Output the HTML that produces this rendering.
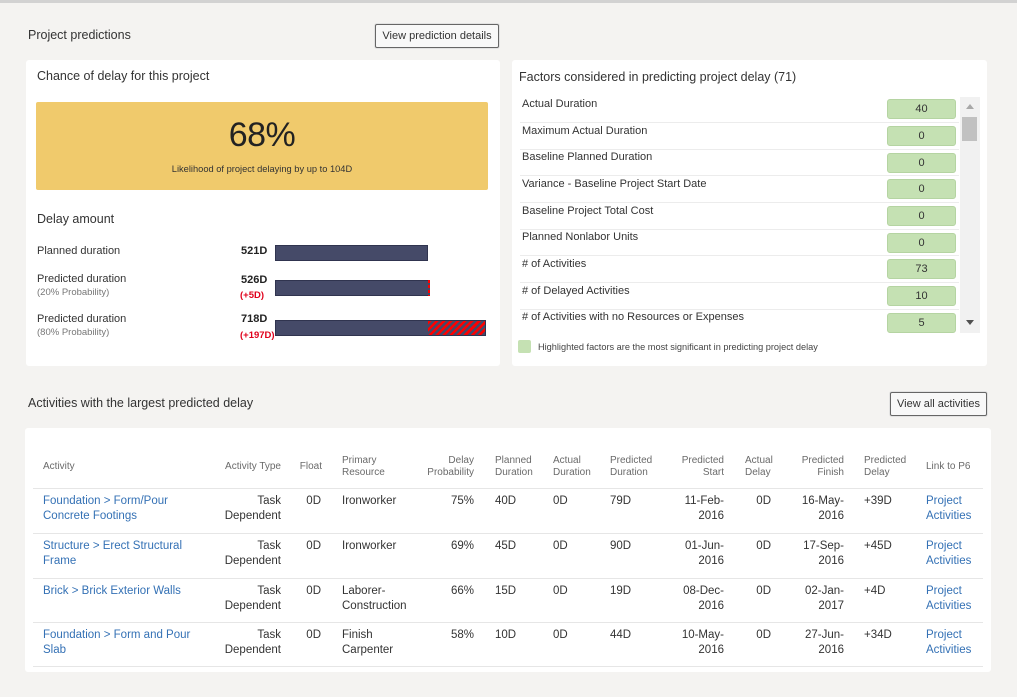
<!DOCTYPE html>
<html><head><meta charset="utf-8">
<style>
*{margin:0;padding:0;box-sizing:border-box}
html,body{width:1017px;height:697px;overflow:hidden;background:#f4f3f1;font-family:"Liberation Sans",Arial,sans-serif;color:#333}
.a{position:absolute;white-space:nowrap}
.card{position:absolute;background:#fff;border-radius:3px}
.btn{position:absolute;border:1px solid #666;background:#f8f8f8;font-size:11px;color:#333;text-align:center;line-height:22px;border-radius:2px;box-shadow:0 0 0 1px #e2e2e2}
.h{font-size:10px;color:#6a6a6a;line-height:11.5px}
.b{font-size:11.5px;color:#333;line-height:15px}
.l{color:#3471b5}
.r{text-align:right;width:200px}
.div{position:absolute;left:33px;width:950px;height:1px;background:#e6e6e6}
.fl{font-size:11px;color:#333;left:522px;line-height:13px}
.pill{position:absolute;left:887px;width:69px;height:20px;background:#c5e1b3;border:1px solid #b5d4a2;border-radius:3px;font-size:11px;text-align:center;line-height:18px;color:#333}
.fd{position:absolute;left:520px;width:439px;height:1px;background:#ececec}
</style></head><body>
<div class="a" style="left:0;top:0;width:1017px;height:3px;background:#d2d2d2"></div>

<div class="a" style="left:28px;top:27px;font-size:12.5px;color:#333;line-height:16px">Project predictions</div>
<div class="btn" style="left:375px;top:24px;width:124px;height:24px">View prediction details</div>

<!-- left card -->
<div class="card" style="left:26px;top:60px;width:474px;height:306px"></div>
<div class="a" style="left:37px;top:68px;font-size:12.5px;line-height:16px;color:#333">Chance of delay for this project</div>
<div class="a" style="left:36px;top:102px;width:452px;height:88px;background:#f0ca6c;border-radius:2px"></div>
<div class="a" style="left:36px;top:115px;width:452px;text-align:center;font-size:34px;letter-spacing:-0.5px;line-height:40px;color:#222">68%</div>
<div class="a" style="left:36px;top:164px;width:452px;text-align:center;font-size:9.3px;line-height:11px;color:#333">Likelihood of project delaying by up to 104D</div>

<div class="a" style="left:37px;top:211px;font-size:12.5px;line-height:16px;color:#333">Delay amount</div>

<div class="a" style="left:37px;top:244px;font-size:11px;line-height:14px;color:#333">Planned duration</div>
<div class="a" style="left:241px;top:244px;font-size:11px;line-height:14px;font-weight:bold;color:#222">521D</div>
<div class="a" style="left:275px;top:245px;width:153px;height:16px;background:#454a68;border:1px solid #30344f"></div>

<div class="a" style="left:37px;top:272px;font-size:11px;line-height:14px;color:#333">Predicted duration</div>
<div class="a" style="left:37px;top:287px;font-size:9.5px;line-height:12px;color:#777">(20% Probability)</div>
<div class="a" style="left:241px;top:273px;font-size:11px;line-height:14px;font-weight:bold;color:#222">526D</div>
<div class="a" style="left:240px;top:290px;font-size:9.5px;line-height:12px;font-weight:bold;color:#e0001b">(+5D)</div>
<div class="a" style="left:275px;top:280px;width:155px;height:16px;background:#454a68;border:1px solid #30344f"></div>
<div class="a" style="left:428px;top:280px;width:2px;height:16px;background:repeating-linear-gradient(180deg,#f00 0 3px,#454a68 3px 5px)"></div>

<div class="a" style="left:37px;top:312px;font-size:11px;line-height:14px;color:#333">Predicted duration</div>
<div class="a" style="left:37px;top:327px;font-size:9.5px;line-height:12px;color:#777">(80% Probability)</div>
<div class="a" style="left:241px;top:312px;font-size:11px;line-height:14px;font-weight:bold;color:#222">718D</div>
<div class="a" style="left:240px;top:330px;font-size:9.5px;line-height:12px;font-weight:bold;color:#e0001b">(+197D)</div>
<div class="a" style="left:275px;top:320px;width:211px;height:16px;background:#454a68;border:1px solid #30344f"></div>
<div class="a" style="left:428px;top:321px;width:57px;height:14px;background:repeating-linear-gradient(135deg,#f00 0 2.5px,#454a68 2.5px 5px)"></div>

<!-- right card -->
<div class="card" style="left:512px;top:60px;width:475px;height:306px"></div>
<div class="a" style="left:519px;top:69px;font-size:12.5px;line-height:16px;color:#333">Factors considered in predicting project delay (71)</div>

<div class="a fl" style="top:97.5px">Actual Duration</div>
<div class="pill" style="top:99px">40</div>
<div class="fd" style="top:122px"></div>
<div class="a fl" style="top:124.5px">Maximum Actual Duration</div>
<div class="pill" style="top:126px">0</div>
<div class="fd" style="top:148.5px"></div>
<div class="a fl" style="top:151px">Baseline Planned Duration</div>
<div class="pill" style="top:152.5px">0</div>
<div class="fd" style="top:175px"></div>
<div class="a fl" style="top:178px">Variance - Baseline Project Start Date</div>
<div class="pill" style="top:179px">0</div>
<div class="fd" style="top:202px"></div>
<div class="a fl" style="top:204.5px">Baseline Project Total Cost</div>
<div class="pill" style="top:206px">0</div>
<div class="fd" style="top:228.5px"></div>
<div class="a fl" style="top:231px">Planned Nonlabor Units</div>
<div class="pill" style="top:232.5px">0</div>
<div class="fd" style="top:255px"></div>
<div class="a fl" style="top:257.5px"># of Activities</div>
<div class="pill" style="top:259px">73</div>
<div class="fd" style="top:282px"></div>
<div class="a fl" style="top:284.5px"># of Delayed Activities</div>
<div class="pill" style="top:286px">10</div>
<div class="fd" style="top:308.5px"></div>
<div class="a fl" style="top:311px"># of Activities with no Resources or Expenses</div>
<div class="pill" style="top:312.5px">5</div>

<div class="a" style="left:960px;top:97px;width:20px;height:236px;background:#f1f1f1"></div>
<div class="a" style="left:966px;top:104px;width:0;height:0;border-left:4px solid transparent;border-right:4px solid transparent;border-bottom:5px solid #a8a8a8"></div>
<div class="a" style="left:962px;top:117px;width:15px;height:24px;background:#c1c1c1"></div>
<div class="a" style="left:966px;top:320px;width:0;height:0;border-left:4px solid transparent;border-right:4px solid transparent;border-top:5px solid #505050"></div>

<div class="a" style="left:518px;top:340px;width:13px;height:13px;background:#c5e1b3;border-radius:2px"></div>
<div class="a" style="left:538px;top:341px;font-size:9.2px;line-height:12px;color:#444">Highlighted factors are the most significant in predicting project delay</div>

<!-- bottom -->
<div class="a" style="left:28px;top:395px;font-size:12.5px;line-height:16px;color:#333">Activities with the largest predicted delay</div>
<div class="btn" style="left:890px;top:392px;width:97px;height:24px">View all activities</div>

<div class="card" style="left:25px;top:428px;width:966px;height:244px"></div>

<!-- headers -->
<div class="a h" style="left:43px;top:461px">Activity</div>
<div class="a h r" style="left:81px;top:461px">Activity Type</div>
<div class="a h r" style="left:122px;top:461px">Float</div>
<div class="a h" style="left:342px;top:455px">Primary<br>Resource</div>
<div class="a h r" style="left:274px;top:455px">Delay<br>Probability</div>
<div class="a h" style="left:495px;top:455px">Planned<br>Duration</div>
<div class="a h" style="left:553px;top:455px">Actual<br>Duration</div>
<div class="a h" style="left:610px;top:455px">Predicted<br>Duration</div>
<div class="a h r" style="left:524px;top:455px">Predicted<br>Start</div>
<div class="a h" style="left:745px;top:455px">Actual<br>Delay</div>
<div class="a h r" style="left:644px;top:455px">Predicted<br>Finish</div>
<div class="a h" style="left:864px;top:455px">Predicted<br>Delay</div>
<div class="a h" style="left:926px;top:461px">Link to P6</div>

<div class="div" style="top:488px"></div>
<div class="div" style="top:533px"></div>
<div class="div" style="top:578px"></div>
<div class="div" style="top:622px"></div>
<div class="div" style="top:666px"></div>

<!-- row 1 -->
<div class="a b l" style="left:43px;top:493.5px">Foundation &gt; Form/Pour<br>Concrete Footings</div>
<div class="a b r" style="left:81px;top:493.5px">Task<br>Dependent</div>
<div class="a b r" style="left:121px;top:493.5px">0D</div>
<div class="a b" style="left:342px;top:493.5px">Ironworker</div>
<div class="a b r" style="left:274px;top:493.5px">75%</div>
<div class="a b" style="left:495px;top:493.5px">40D</div>
<div class="a b" style="left:553px;top:493.5px">0D</div>
<div class="a b" style="left:610px;top:493.5px">79D</div>
<div class="a b r" style="left:524px;top:493.5px">11-Feb-<br>2016</div>
<div class="a b r" style="left:571px;top:493.5px">0D</div>
<div class="a b r" style="left:644px;top:493.5px">16-May-<br>2016</div>
<div class="a b" style="left:864px;top:493.5px">+39D</div>
<div class="a b l" style="left:926px;top:493.5px">Project<br>Activities</div>

<!-- row 2 -->
<div class="a b l" style="left:43px;top:538.5px">Structure &gt; Erect Structural<br>Frame</div>
<div class="a b r" style="left:81px;top:538.5px">Task<br>Dependent</div>
<div class="a b r" style="left:121px;top:538.5px">0D</div>
<div class="a b" style="left:342px;top:538.5px">Ironworker</div>
<div class="a b r" style="left:274px;top:538.5px">69%</div>
<div class="a b" style="left:495px;top:538.5px">45D</div>
<div class="a b" style="left:553px;top:538.5px">0D</div>
<div class="a b" style="left:610px;top:538.5px">90D</div>
<div class="a b r" style="left:524px;top:538.5px">01-Jun-<br>2016</div>
<div class="a b r" style="left:571px;top:538.5px">0D</div>
<div class="a b r" style="left:644px;top:538.5px">17-Sep-<br>2016</div>
<div class="a b" style="left:864px;top:538.5px">+45D</div>
<div class="a b l" style="left:926px;top:538.5px">Project<br>Activities</div>

<!-- row 3 -->
<div class="a b l" style="left:43px;top:583.5px">Brick &gt; Brick Exterior Walls</div>
<div class="a b r" style="left:81px;top:583.5px">Task<br>Dependent</div>
<div class="a b r" style="left:121px;top:583.5px">0D</div>
<div class="a b" style="left:342px;top:583.5px">Laborer-<br>Construction</div>
<div class="a b r" style="left:274px;top:583.5px">66%</div>
<div class="a b" style="left:495px;top:583.5px">15D</div>
<div class="a b" style="left:553px;top:583.5px">0D</div>
<div class="a b" style="left:610px;top:583.5px">19D</div>
<div class="a b r" style="left:524px;top:583.5px">08-Dec-<br>2016</div>
<div class="a b r" style="left:571px;top:583.5px">0D</div>
<div class="a b r" style="left:644px;top:583.5px">02-Jan-<br>2017</div>
<div class="a b" style="left:864px;top:583.5px">+4D</div>
<div class="a b l" style="left:926px;top:583.5px">Project<br>Activities</div>

<!-- row 4 -->
<div class="a b l" style="left:43px;top:627.5px">Foundation &gt; Form and Pour<br>Slab</div>
<div class="a b r" style="left:81px;top:627.5px">Task<br>Dependent</div>
<div class="a b r" style="left:121px;top:627.5px">0D</div>
<div class="a b" style="left:342px;top:627.5px">Finish<br>Carpenter</div>
<div class="a b r" style="left:274px;top:627.5px">58%</div>
<div class="a b" style="left:495px;top:627.5px">10D</div>
<div class="a b" style="left:553px;top:627.5px">0D</div>
<div class="a b" style="left:610px;top:627.5px">44D</div>
<div class="a b r" style="left:524px;top:627.5px">10-May-<br>2016</div>
<div class="a b r" style="left:571px;top:627.5px">0D</div>
<div class="a b r" style="left:644px;top:627.5px">27-Jun-<br>2016</div>
<div class="a b" style="left:864px;top:627.5px">+34D</div>
<div class="a b l" style="left:926px;top:627.5px">Project<br>Activities</div>

</body></html>
